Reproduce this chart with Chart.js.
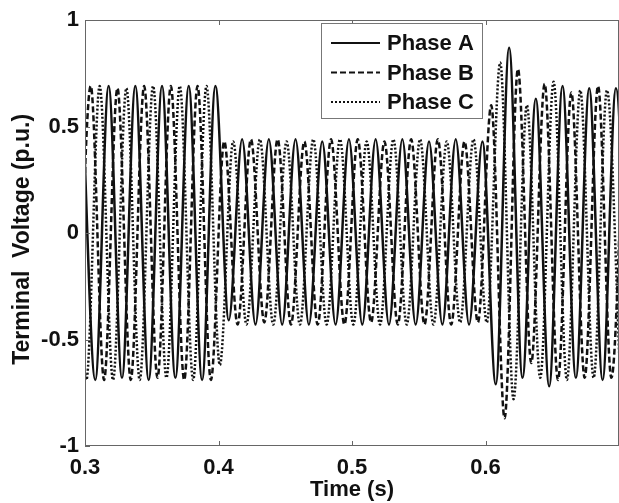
<!DOCTYPE html>
<html>
<head>
<meta charset="utf-8">
<script src="https://cdn.jsdelivr.net/npm/chart.js@4.4.1/dist/chart.umd.min.js"></script>
<style>
  html, body { margin: 0; padding: 0; background: #fff; }
</style>
</head>
<body>
<canvas id="chart" width="619" height="503"></canvas>
<script>
// peaks and troughs of each phase (time in s, voltage in p.u.)
const timeA = [0.2977, 0.3077, 0.3177, 0.3277, 0.3377, 0.3477, 0.3577, 0.3677, 0.3777, 0.3877,
  0.3977, 0.4077, 0.4177, 0.4277, 0.4377, 0.4477, 0.4577, 0.4677, 0.4777, 0.4877,
  0.4977, 0.5077, 0.5177, 0.5277, 0.5377, 0.5477, 0.5577, 0.5677, 0.5777, 0.5877,
  0.5977, 0.6077, 0.6177, 0.6277, 0.6377, 0.6477, 0.6577, 0.6677, 0.6777, 0.6877,
  0.6977, 0.7077];
const voltA = [0.69, -0.69, 0.69, -0.68, 0.69, -0.69, 0.69, -0.68, 0.69, -0.69,
  0.69, -0.41, 0.44, -0.43, 0.44, -0.43, 0.44, -0.43, 0.43, -0.43,
  0.44, -0.43, 0.44, -0.43, 0.44, -0.43, 0.43, -0.43, 0.44, -0.43,
  0.43, -0.71, 0.87, -0.68, 0.63, -0.72, 0.69, -0.68, 0.68, -0.69,
  0.68, -0.69];

const timeB = [0.2943, 0.3043, 0.3143, 0.3243, 0.3343, 0.3443, 0.3543, 0.3643, 0.3743, 0.3843,
  0.3943, 0.4043, 0.4143, 0.4243, 0.4343, 0.4443, 0.4543, 0.4643, 0.4743, 0.4843,
  0.4943, 0.5043, 0.5143, 0.5243, 0.5343, 0.5443, 0.5543, 0.5643, 0.5743, 0.5843,
  0.5943, 0.6043, 0.6143, 0.6243, 0.6343, 0.6443, 0.6543, 0.6643, 0.6743, 0.6843,
  0.6943, 0.7043];
const voltB = [-0.69, 0.69, -0.69, 0.68, -0.69, 0.69, -0.68, 0.69, -0.69, 0.69,
  -0.69, 0.43, -0.43, 0.44, -0.42, 0.44, -0.43, 0.43, -0.43, 0.44,
  -0.43, 0.44, -0.42, 0.43, -0.43, 0.44, -0.43, 0.44, -0.43, 0.43,
  -0.42, 0.60, -0.87, 0.77, -0.61, 0.70, -0.69, 0.66, -0.68, 0.69,
  -0.68, 0.69];

const timeC = [0.2910, 0.3010, 0.3110, 0.3210, 0.3310, 0.3410, 0.3510, 0.3610, 0.3710, 0.3810,
  0.3910, 0.4010, 0.4110, 0.4210, 0.4310, 0.4410, 0.4510, 0.4610, 0.4710, 0.4810,
  0.4910, 0.5010, 0.5110, 0.5210, 0.5310, 0.5410, 0.5510, 0.5610, 0.5710, 0.5810,
  0.5910, 0.6010, 0.6110, 0.6210, 0.6310, 0.6410, 0.6510, 0.6610, 0.6710, 0.6810,
  0.6910, 0.7010];
const voltC = [0.69, -0.69, 0.69, -0.69, 0.68, -0.69, 0.69, -0.68, 0.69, -0.69,
  0.69, -0.62, 0.43, -0.43, 0.44, -0.43, 0.43, -0.43, 0.44, -0.43,
  0.44, -0.43, 0.43, -0.43, 0.44, -0.43, 0.44, -0.43, 0.43, -0.42,
  0.44, -0.42, 0.80, -0.78, 0.60, -0.68, 0.71, -0.69, 0.67, -0.68,
  0.67, -0.69];

const phaseNames = ["Phase A", "Phase B", "Phase C"];
const xTicks = [0.3, 0.4, 0.5, 0.6];
const yTicks = [-1, -0.5, 0, 0.5, 1];

const FONT = "'Liberation Sans', Arial, sans-serif";

function toPoints(t, v) {
  return t.map((x, i) => ({ x: x, y: v[i] }));
}

// box around the axes, inward ticks, and the legend in the top middle
const framePlugin = {
  id: "frame",
  afterDraw(chart) {
    const ctx = chart.ctx;
    const a = chart.chartArea;
    const sx = chart.scales.x, sy = chart.scales.y;
    ctx.save();
    ctx.strokeStyle = "#666";
    ctx.lineWidth = 1;
    ctx.setLineDash([]);
    ctx.strokeRect(a.left + 0.5, a.top + 0.5, a.right - a.left - 1, a.bottom - a.top - 1);
    ctx.beginPath();
    xTicks.forEach(v => {
      const px = Math.round(sx.getPixelForValue(v)) + 0.5;
      ctx.moveTo(px, a.bottom); ctx.lineTo(px, a.bottom - 5);
      ctx.moveTo(px, a.top); ctx.lineTo(px, a.top + 5);
    });
    yTicks.forEach(v => {
      const py = Math.round(sy.getPixelForValue(v)) + 0.5;
      ctx.moveTo(a.left, py); ctx.lineTo(a.left + 5, py);
    });
    ctx.stroke();

    // legend
    const bx = a.left + 236, by = a.top + 3, bw = 161, bh = 95;
    ctx.fillStyle = "#fff";
    ctx.fillRect(bx, by, bw, bh);
    ctx.strokeStyle = "#777";
    ctx.strokeRect(bx + 0.5, by + 0.5, bw, bh);
    ctx.font = "bold 22px " + FONT;
    ctx.textBaseline = "middle";
    ctx.textAlign = "left";
    chart.data.datasets.forEach((ds, i) => {
      const ly = by + 20 + i * 29.5;
      ctx.strokeStyle = "#111";
      ctx.lineWidth = 2;
      ctx.setLineDash(ds.borderDash || []);
      ctx.beginPath();
      ctx.moveTo(bx + 10, ly); ctx.lineTo(bx + 59, ly);
      ctx.stroke();
      ctx.fillStyle = "#111";
      ctx.fillText(ds.label, bx + 66, ly + 1);
    });
    ctx.restore();
  }
};

new Chart(document.getElementById("chart"), {
  type: "line",
  data: {
    datasets: [
      { label: phaseNames[0], data: toPoints(timeA, voltA), borderColor: "#111", borderWidth: 2.5, borderDash: [] },
      { label: phaseNames[1], data: toPoints(timeB, voltB), borderColor: "#111", borderWidth: 2.5, borderDash: [6, 3] },
      { label: phaseNames[2], data: toPoints(timeC, voltC), borderColor: "#111", borderWidth: 2.5, borderDash: [2, 2] }
    ]
  },
  options: {
    responsive: false,
    animation: false,
    layout: { padding: { top: 20, right: 0, left: 0, bottom: 0 } },
    elements: {
      point: { radius: 0 },
      line: { cubicInterpolationMode: "monotone", fill: false }
    },
    plugins: {
      legend: { display: false },
      tooltip: { enabled: false }
    },
    scales: {
      x: {
        type: "linear",
        min: 0.3,
        max: 0.7,
        afterBuildTicks: s => { s.ticks = xTicks.map(v => ({ value: v })); },
        afterFit: s => { s.height = 57; },
        grid: { display: false, drawTicks: false },
        border: { display: false },
        ticks: {
          padding: 9,
          color: "#111",
          font: { family: FONT, size: 22, weight: "bold" },
          callback: v => v.toFixed(1)
        },
        title: {
          display: true,
          text: "Time (s)",
          color: "#111",
          font: { family: FONT, size: 22, weight: "bold" },
          padding: { top: 0, bottom: 0 }
        }
      },
      y: {
        min: -1,
        max: 1,
        afterBuildTicks: s => { s.ticks = yTicks.map(v => ({ value: v })); },
        afterFit: s => { s.width = 85; },
        grid: { display: false, drawTicks: false },
        border: { display: false },
        ticks: {
          padding: 6,
          color: "#111",
          font: { family: FONT, size: 22, weight: "bold" },
          callback: v => String(v)
        },
        title: {
          display: true,
          text: "Terminal  Voltage (p.u.)  ",
          color: "#111",
          font: { family: FONT, size: 23, weight: "bold" },
          padding: { top: 9, bottom: 0 }
        }
      }
    }
  },
  plugins: [framePlugin]
});
</script>
</body>
</html>
